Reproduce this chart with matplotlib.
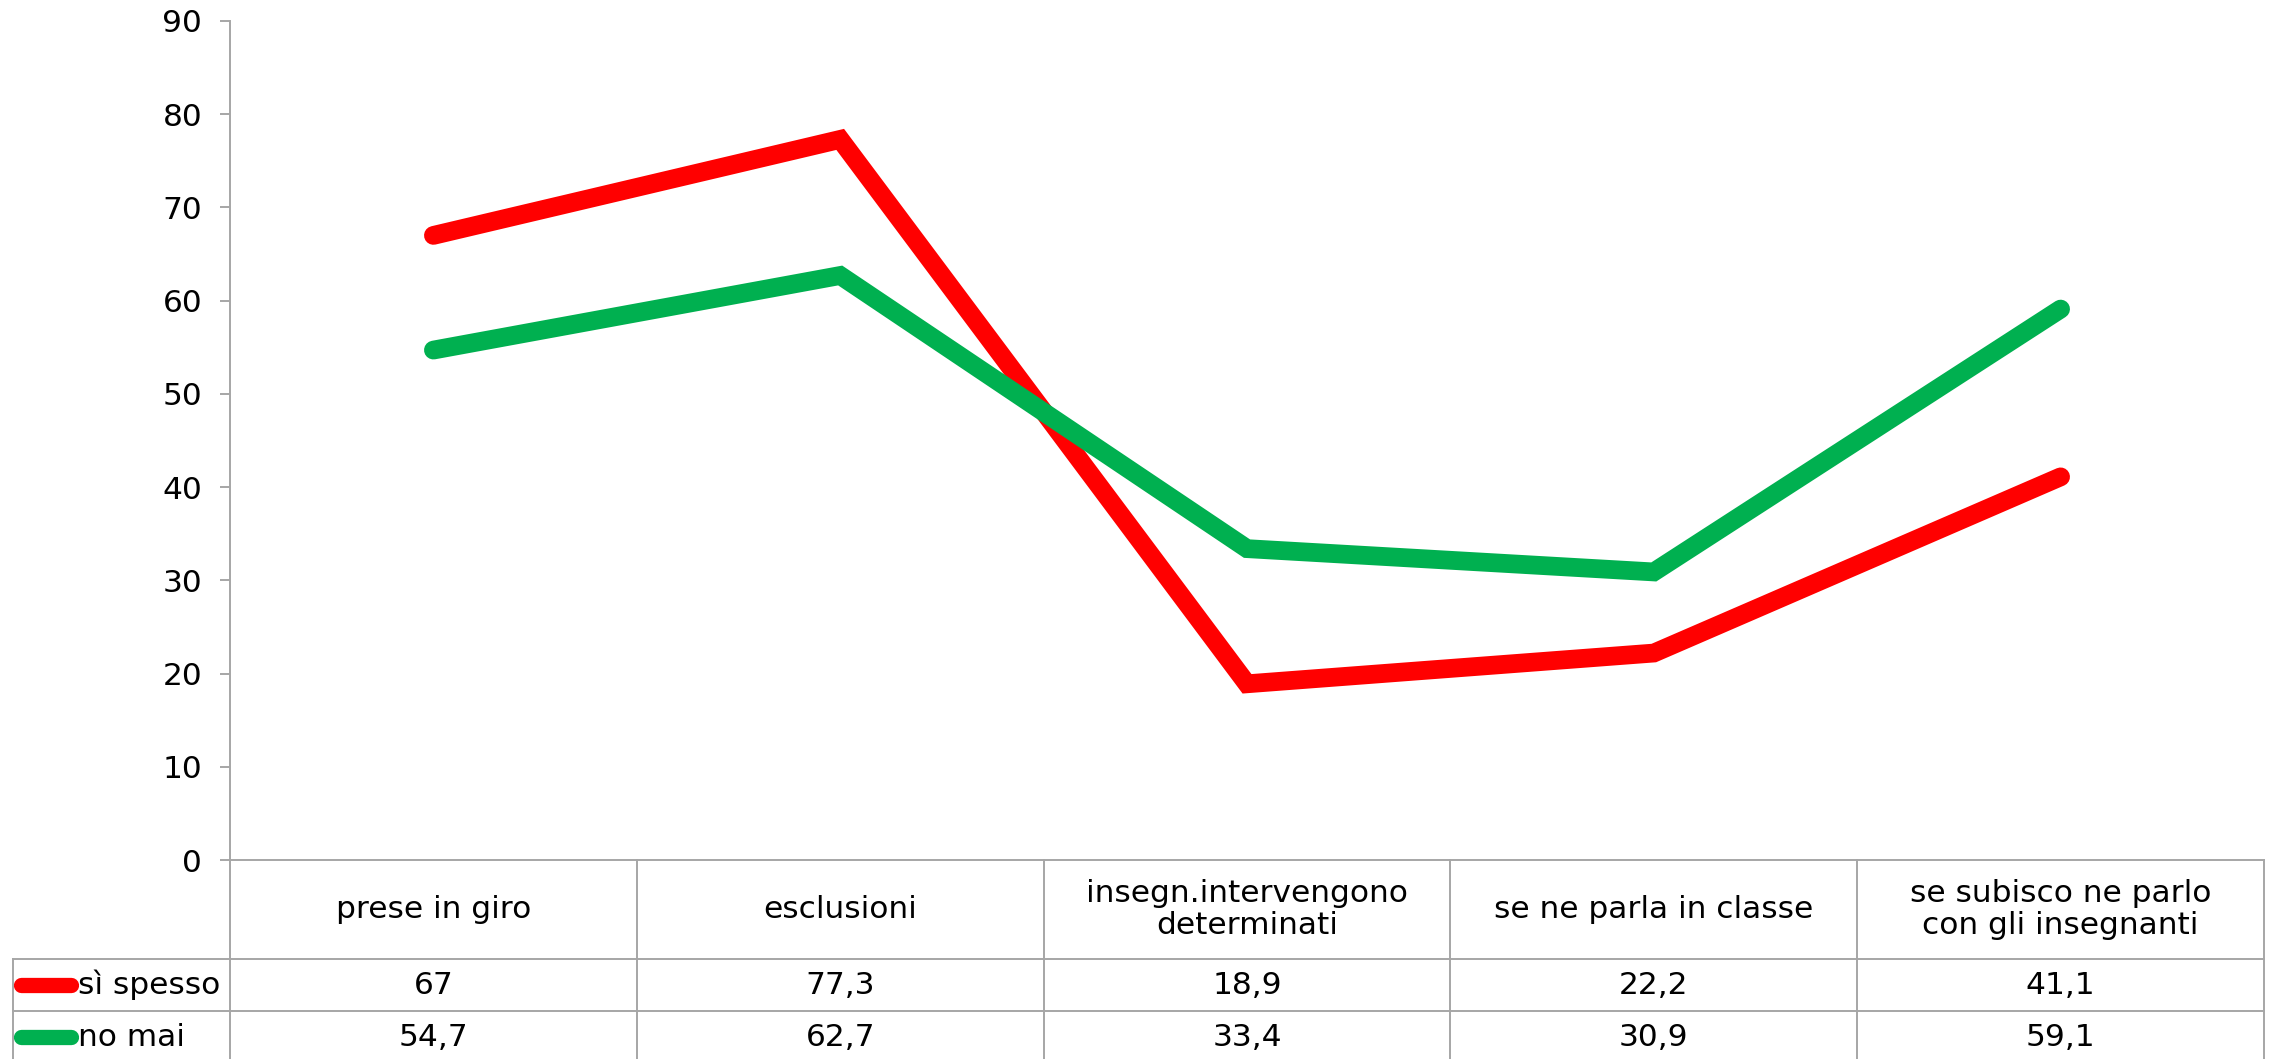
import matplotlib.pyplot as plt
from matplotlib.lines import Line2D
from matplotlib.transforms import blended_transform_factory

categorie = ['prese in giro', 'esclusioni', 'insegn.intervengono\ndeterminati',
             'se ne parla in classe', 'se subisco ne parlo\ncon gli insegnanti']
si_spesso = [67, 77.3, 18.9, 22.2, 41.1]
no_mai = [54.7, 62.7, 33.4, 30.9, 59.1]
serie = [('sì spesso', si_spesso, '#FF0000'), ('no mai', no_mai, '#00B050')]

W, H = 2280, 1059
fig = plt.figure(figsize=(W / 100, H / 100), dpi=100)
ax = fig.add_axes([230 / W, 1 - 860 / H, (2264 - 230) / W, (860 - 21) / H])

x = range(len(categorie))
for nome, vals, col in serie:
    ax.plot(x, vals, color=col, lw=13.5, solid_capstyle='round', solid_joinstyle='miter')

ax.set_xlim(-0.5, len(categorie) - 0.5)
ax.set_ylim(0, 90)
ax.set_yticks(range(0, 91, 10))
ax.set_xticks([])
grigio = '#A6A6A6'
for s in ['top', 'right']:
    ax.spines[s].set_visible(False)
for s in ['left', 'bottom']:
    ax.spines[s].set_color(grigio)
    ax.spines[s].set_linewidth(1.4)
ax.tick_params(axis='y', length=7, width=1.4, color=grigio, labelsize=22.5, pad=13)

# tabella dati sotto il grafico
tf = blended_transform_factory(ax.transData, ax.transAxes)
def ay(py):
    return (860 - py) / (860 - 21)

fs = 22.5
righe = [860, 959, 1011, 1063]
for i in range(len(categorie) + 1):
    ax.add_line(Line2D([i - 0.5, i - 0.5], [ay(860), ay(1063)], transform=tf,
                       color=grigio, lw=1.4, clip_on=False))
for r in righe[1:]:
    fig.add_artist(Line2D([13 / W, 2264 / W], [1 - r / H, 1 - r / H], color=grigio, lw=1.4))
fig.add_artist(Line2D([13 / W, 13 / W], [1 - 959 / H, 0], color=grigio, lw=1.4))

for i, c in enumerate(categorie):
    ax.text(i, ay((860 + 959) / 2), c, transform=tf, ha='center', va='center',
            fontsize=fs, linespacing=1.15)
for k, (nome, vals, col) in enumerate(serie):
    yc = (righe[k + 1] + righe[k + 2]) / 2
    for i, v in enumerate(vals):
        ax.text(i, ay(yc), f'{v:g}'.replace('.', ','), transform=tf, ha='center',
                va='center', fontsize=fs)
    fig.add_artist(Line2D([21 / W, 71 / W], [1 - yc / H] * 2, color=col, lw=11,
                          solid_capstyle='round'))
    fig.text(78 / W, 1 - yc / H, nome, ha='left', va='center', fontsize=fs)

fig.savefig('out.png', dpi=100)
